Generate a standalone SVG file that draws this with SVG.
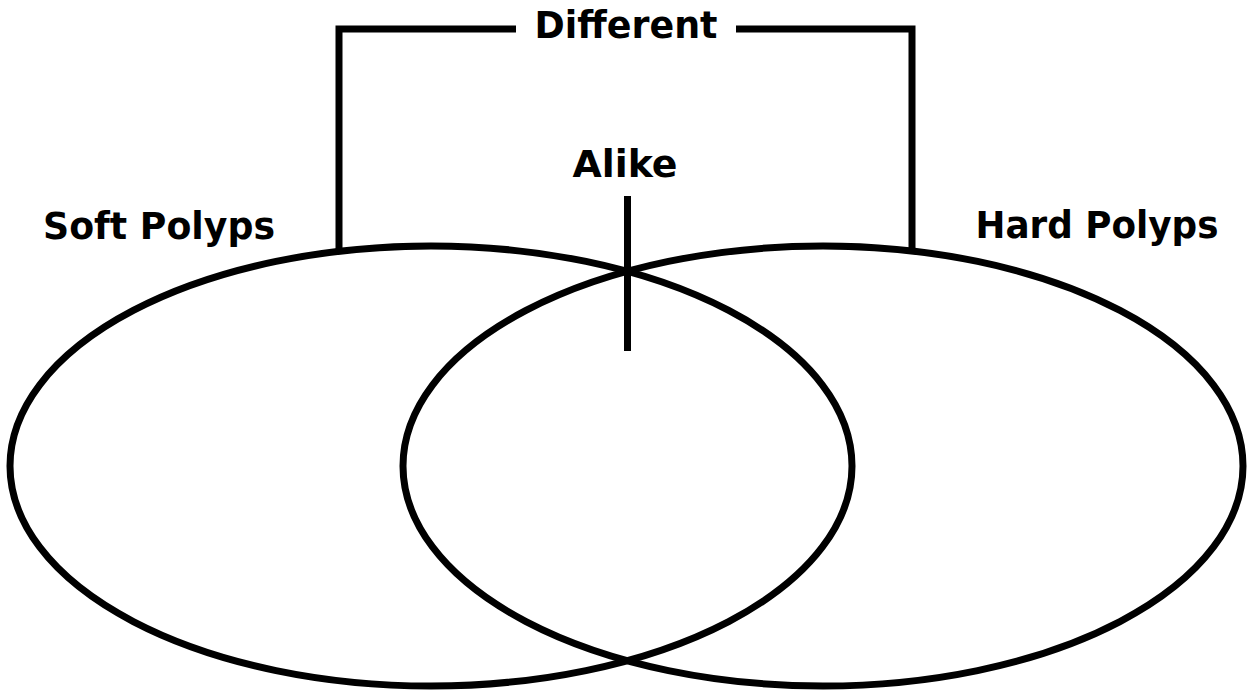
<svg xmlns="http://www.w3.org/2000/svg" width="1249" height="692" viewBox="0 0 1249 692">
<style>
.shape{fill:none;stroke:#000;stroke-width:7}
.lbl{font-family:"DejaVu Sans",sans-serif;font-weight:bold;font-size:37px;fill:#000}
</style>
<rect width="1249" height="692" fill="#fff"/>
<g id="soft-polyps">
<ellipse class="shape" cx="431" cy="466" rx="421" ry="220"/>
<text class="lbl" x="159" y="239" text-anchor="middle" textLength="232" lengthAdjust="spacingAndGlyphs">Soft Polyps</text>
</g>
<g id="hard-polyps">
<ellipse class="shape" cx="823" cy="466" rx="420" ry="220"/>
<text class="lbl" x="1097" y="238" text-anchor="middle" textLength="243" lengthAdjust="spacingAndGlyphs">Hard Polyps</text>
</g>
<g id="alike">
<text class="lbl" x="625" y="177" text-anchor="middle" textLength="105" lengthAdjust="spacingAndGlyphs">Alike</text>
</g>
<g id="different">
<text class="lbl" x="626" y="38" text-anchor="middle" textLength="183" lengthAdjust="spacingAndGlyphs">Different</text>
</g>
<g id="connectors">
<polyline class="shape" points="339,250 339,29 516,29"/>
<polyline class="shape" points="736,29 912,29 912,248"/>
<line class="shape" x1="627.5" y1="196" x2="627.5" y2="351"/>
</g>
</svg>
